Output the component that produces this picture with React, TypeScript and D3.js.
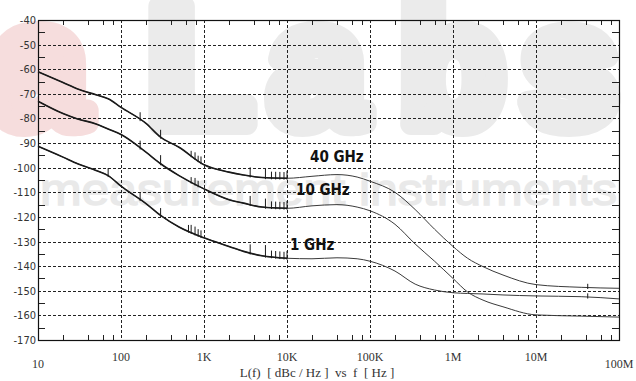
import React, { useEffect, useRef } from 'react';
import * as d3 from 'd3';

// offset frequencies (Hz) shared by the three traces
const freqs = [10, 20, 30, 50, 70, 100, 200, 300, 500, 1e3, 2e3, 3e3, 5e3, 1e4, 2e4, 4e4, 7e4, 1e5, 2e5, 3.5e5, 6e5, 1e6, 1.5e6, 2.3e6, 4e6, 1e7, 3.5e7, 1e8];

// L(f) in dBc/Hz
const ghz40 = [-61, -65.4, -68, -70.4, -72, -75.5, -82, -87.6, -91.7, -98.8, -101.8, -103, -104, -104.3, -103.5, -102.8, -103.8, -105.5, -110, -117, -125, -132, -136.8, -140.2, -143.6, -147.5, -148.6, -149];
const ghz10 = [-73, -78, -80.2, -82.2, -84.3, -86.5, -93.7, -98.4, -103.2, -108.6, -113, -114.4, -116, -116.5, -115.5, -115, -116, -117.5, -123, -131, -138, -145, -150.5, -153.8, -156.5, -159.8, -160.3, -160.7];
const ghz1 = [-91.3, -95.7, -98.4, -101.1, -103.2, -107.5, -114.6, -119.4, -124.1, -128.5, -132, -134, -135.8, -136.8, -137, -136.6, -137, -138, -142, -147.3, -149.7, -150.8, -151.1, -151.3, -151.7, -152.1, -152.4, -153.3];

// spurs: [frequency, height above trace in dB]
const spurs40: [number, number][] = [[170, 3], [300, 3], [700, 2], [780, 2.5], [850, 2], [920, 2.5], [3600, 3.5], [5500, 3.5], [6500, 2.5], [7300, 2.5], [8200, 2.5], [9200, 2.5], [10000, 3], [4.2e7, 1.5]];
const spurs10: [number, number][] = [[170, 3], [300, 3.5], [700, 2], [780, 2.5], [850, 2], [3600, 3.5], [5500, 3.5], [6500, 2.5], [7300, 2.5], [8200, 2.5], [9200, 2.5], [10000, 3]];
const spurs1: [number, number][] = [[70, 3], [170, 3], [300, 3], [650, 2.5], [700, 3], [780, 3], [850, 2.5], [920, 2.5], [3600, 3.5], [5500, 4.5], [6500, 2.5], [7300, 2.5], [8200, 2.5], [9200, 2.5], [10000, 3], [4.2e7, 1.5]];

const seriesNames = ['40 GHz', '10 GHz', '1 GHz'];
const labelPos: [number, number][] = [[310, 162], [296, 195], [290, 250]];

const xTicks = [10, 100, 1e3, 1e4, 1e5, 1e6, 1e7, 1e8];
const xTickLabels = ['10', '100', '1K', '10K', '100K', '1M', '10M', '100M'];
const yTicks = [-40, -50, -60, -70, -80, -90, -100, -110, -120, -130, -140, -150, -160, -170];

const W = 636;
const H = 381;

const App: React.FC = () => {
    const ref = useRef<SVGSVGElement>(null);

    useEffect(() => {
        const svg = d3.select(ref.current);
        svg.selectAll('*').remove();

        const margin = { top: 20, right: 17, bottom: 41, left: 38 };
        const x = d3.scaleLog().domain([10, 1e8]).range([margin.left, W - margin.right]);
        const y = d3.scaleLinear().domain([-170, -40]).range([H - margin.bottom, margin.top]);
        const [x0, x1] = x.range();
        const [y0, y1] = y.range();

        // watermark behind the plot
        const wm = svg.append('g');
        const letters: [string, number, string][] = [['a', -8, '#f6dddd'], ['L', 148, '#ebebeb'], ['a', 270, '#ebebeb'], ['b', 400, '#ebebeb'], ['s', 522, '#ebebeb']];
        letters.forEach(([t, lx, c]) => {
            wm.append('text').attr('x', lx).attr('y', 124).attr('font-family', 'Liberation Sans, Arial, sans-serif')
                .attr('font-weight', 'bold').attr('font-size', 170).attr('fill', c)
                .attr('stroke', c).attr('stroke-width', 22).attr('stroke-linejoin', 'round').text(t);
        });
        wm.append('text').attr('x', 40).attr('y', 205).attr('font-family', 'Liberation Sans, Arial, sans-serif')
            .attr('font-size', 44).attr('fill', '#e9e9e9').attr('stroke', '#e9e9e9').attr('stroke-width', 1.5)
            .attr('textLength', 577).attr('lengthAdjust', 'spacingAndGlyphs')
            .text('measurement instruments');

        // grid
        const grid = svg.append('g').attr('stroke', '#222').attr('stroke-width', 1).attr('stroke-dasharray', '3,2');
        grid.selectAll('.vg').data(xTicks.slice(1, -1)).enter().append('line')
            .attr('x1', d => Math.round(x(d)) + 0.5).attr('x2', d => Math.round(x(d)) + 0.5)
            .attr('y1', y1).attr('y2', y0);
        grid.selectAll('.hg').data(yTicks.slice(1, -1)).enter().append('line')
            .attr('y1', d => Math.round(y(d)) + 0.5).attr('y2', d => Math.round(y(d)) + 0.5)
            .attr('x1', x0).attr('x2', x1);

        // minor ticks
        const ticks = svg.append('g').attr('stroke', '#222').attr('stroke-width', 1);
        const minorX: number[] = [];
        for (let dec = 10; dec < 1e8; dec *= 10) [2, 4, 6, 8].forEach(m => minorX.push(dec * m));
        minorX.forEach(f => {
            const px = Math.round(x(f)) + 0.5;
            ticks.append('line').attr('x1', px).attr('x2', px).attr('y1', y0).attr('y2', y0 - 5);
            ticks.append('line').attr('x1', px).attr('x2', px).attr('y1', y1).attr('y2', y1 + 5);
        });
        yTicks.slice(0, -1).forEach(v => {
            const py = Math.round(y(v - 5)) + 0.5;
            ticks.append('line').attr('x1', x0).attr('x2', x0 + 7).attr('y1', py).attr('y2', py);
            ticks.append('line').attr('x1', x1).attr('x2', x1 - 7).attr('y1', py).attr('y2', py);
        });

        // frame
        svg.append('rect').attr('x', x0 + 0.5).attr('y', y1 + 0.5).attr('width', x1 - x0).attr('height', y0 - y1)
            .attr('fill', 'none').attr('stroke', '#111').attr('stroke-width', 1.2);

        // traces
        const allSeries = [ghz40, ghz10, ghz1];
        const allSpurs = [spurs40, spurs10, spurs1];
        const line = d3.line<[number, number]>().x(d => x(d[0])).y(d => y(d[1])).curve(d3.curveMonotoneX);
        const valueAt = (vals: number[], f: number) => {
            const lf = Math.log10(f);
            for (let i = 0; i < freqs.length - 1; i++) {
                const a = Math.log10(freqs[i]);
                const b = Math.log10(freqs[i + 1]);
                if (lf >= a && lf <= b) return vals[i] + (vals[i + 1] - vals[i]) * (lf - a) / (b - a);
            }
            return vals[vals.length - 1];
        };
        allSeries.forEach((vals, k) => {
            const pts = freqs.map((f, i) => [f, vals[i]] as [number, number]);
            svg.append('path').datum(pts).attr('d', line).attr('fill', 'none').attr('stroke', '#3a3a3a').attr('stroke-width', 1);
            svg.append('path').datum(pts.filter(p => p[0] <= 1e4)).attr('d', line).attr('fill', 'none')
                .attr('stroke', '#1a1a1a').attr('stroke-width', 1.6);
            svg.append('g').attr('stroke', '#1a1a1a').attr('stroke-width', 1)
                .selectAll('line').data(allSpurs[k]).enter().append('line')
                .attr('x1', d => x(d[0])).attr('x2', d => x(d[0]))
                .attr('y1', d => y(valueAt(vals, d[0])) + 1.5).attr('y2', d => y(valueAt(vals, d[0]) + d[1]));
            svg.append('text').attr('x', labelPos[k][0]).attr('y', labelPos[k][1])
                .attr('font-family', 'Liberation Sans Narrow, DejaVu Sans Condensed, Arial, sans-serif')
                .attr('font-weight', 'bold').attr('font-size', 15).attr('fill', '#111').text(seriesNames[k]);
        });

        // axis labels
        svg.append('g').selectAll('text').data(yTicks).enter().append('text')
            .attr('x', x0 - 2).attr('y', d => y(d) + 4).attr('text-anchor', 'end')
            .attr('font-family', 'Liberation Sans Narrow, DejaVu Sans Condensed, Arial, sans-serif')
            .attr('font-size', 11).attr('fill', '#333').text(d => String(d));
        svg.append('g').selectAll('text').data(xTicks).enter().append('text')
            .attr('x', d => x(d)).attr('y', (d, i) => (i === 0 || i === xTicks.length - 1 ? 368 : 361))
            .attr('text-anchor', 'middle').attr('font-family', 'Liberation Serif, Times New Roman, serif')
            .attr('font-size', 12).attr('fill', '#333').text((d, i) => xTickLabels[i]);
        svg.append('text').attr('x', 317).attr('y', 377).attr('text-anchor', 'middle')
            .attr('font-family', 'Liberation Serif, Times New Roman, serif').attr('font-size', 13).attr('fill', '#333')
            .attr('xml:space', 'preserve').style('white-space', 'pre')
            .text('L(f)  [ dBc / Hz ]  vs  f  [ Hz ]');
    }, []);

    return <svg ref={ref} width={W} height={H} style={{ position: 'absolute', left: 0, top: 0, background: '#fff' }}></svg>;
};

export default App;
